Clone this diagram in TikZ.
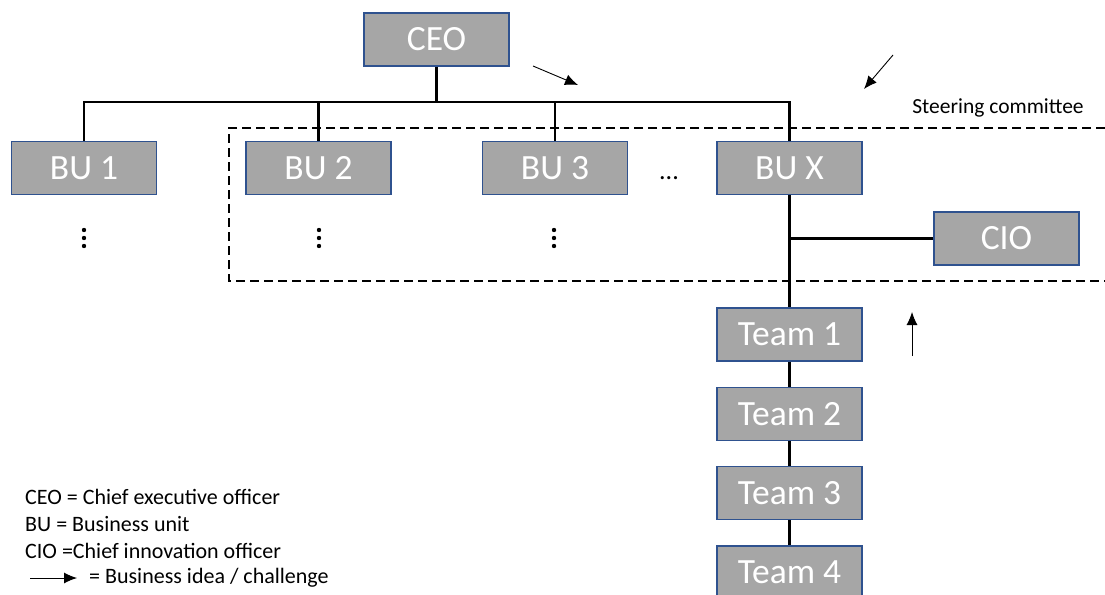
\documentclass[tikz,border=0pt]{standalone}
\usepackage{fontspec}
\setmainfont{Carlito}
\usetikzlibrary{arrows.meta,positioning}

\definecolor{unitfill}{HTML}{A6A6A6}
\definecolor{unitline}{HTML}{2F528F}

\begin{document}
\begin{tikzpicture}[x=1pt,y=-1pt,
		unit/.style={rectangle,draw=unitline,fill=unitfill,line width=1.4pt,text=white,
			minimum width=145pt,minimum height=53pt,inner sep=0pt,
			font=\fontsize{35.5}{40}\selectfont},
		link/.style={line width=2.6pt},
		idea/.style={-{Latex[length=13pt,width=11pt]},line width=0.9pt},
		note/.style={inner sep=0pt,anchor=west,font=\fontsize{22}{26}\selectfont}]
		\useasboundingbox (0,0) rectangle (1105,594);

		% top of the chart
		\node [unit] (ceo) at (436.5,39.5) {CEO};
		\node [unit] (bu1) at (84,168) {BU 1};
		\node [unit] (bu2) at (318.5,168) {BU 2};
		\node [unit] (bu3) at (555,168) {BU 3};
		\node [unit] (bux) at (789.5,168) {BU X};
		\node [anchor=base,inner sep=0pt,font=\fontsize{26}{30}\selectfont] (more) at (669,179) {...};

		% vertical dots below the units
		\coordinate (dots1) at (84,238);
		\coordinate (dots2) at (319,238);
		\coordinate (dots3) at (554,238);
		\foreach \d in {dots1,dots2,dots3}
			\foreach \dy in {-8,0,8}
				\fill ([yshift=\dy pt]\d) circle (2.2pt);

		\node [unit] (cio) at (1006.5,238.5) {CIO};

		% teams under BU X
		\node [unit] (team1) [below=112pt of bux] {Team 1};
		\node [unit] (team2) [below=25pt of team1] {Team 2};
		\node [unit] (team3) [below=25pt of team2] {Team 3};
		\node [unit] (team4) [below=25pt of team3] {Team 4};

		% connectors
		\coordinate (bar) at (0,102);
		\draw [link] (ceo.south) -- (ceo.south |- bar);
		\draw [link] (bu1.north) -- (bu1.north |- bar) -- (bux.north |- bar) -- (bux.north);
		\foreach \b in {bu2,bu3}
			\draw [link] (\b.north) -- (\b.north |- bar);
		\draw [link] (bux.south) -- (team1.north);
		\draw [link] (cio.west) -- (cio.west -| bux.south);
		\draw [link] (team1) -- (team2);
		\draw [link] (team2) -- (team3);
		\draw [link] (team3) -- (team4);

		% steering committee
		\draw [line width=2.3pt,dash pattern=on 9pt off 5pt] (1105,128) -- (229,128) -- (229,281) -- (1105,281);
		\node [font=\fontsize{21.5}{25}\selectfont,inner sep=0pt] (steer) at (998,108) {Steering committee};

		% ideas coming in
		\coordinate (in1a) at (533,66);
		\coordinate (in1b) at (578,85);
		\coordinate (in2a) at (893,55);
		\coordinate (in2b) at (864,89);
		\coordinate (in3a) at (912,356);
		\coordinate (in3b) at (912,312);
		\draw [idea] (in1a) -- (in1b);
		\draw [idea] (in2a) -- (in2b);
		\draw [idea] (in3a) -- (in3b);

		% legend
		\node [note] (leg1) at (25,497) {CEO = Chief executive officer};
		\node [note] (leg2) at ([yshift=-27pt]leg1.west) {BU = Business unit};
		\node [note] (leg3) at ([yshift=-27pt]leg2.west) {CIO =Chief innovation officer};
		\node [note] (leg4) at (89,578) {= Business idea / challenge};
		\coordinate (keytail) at (30,578);
		\draw [idea] (keytail) -- ([xshift=-12pt]leg4.west);
	\end{tikzpicture}
\end{document}
